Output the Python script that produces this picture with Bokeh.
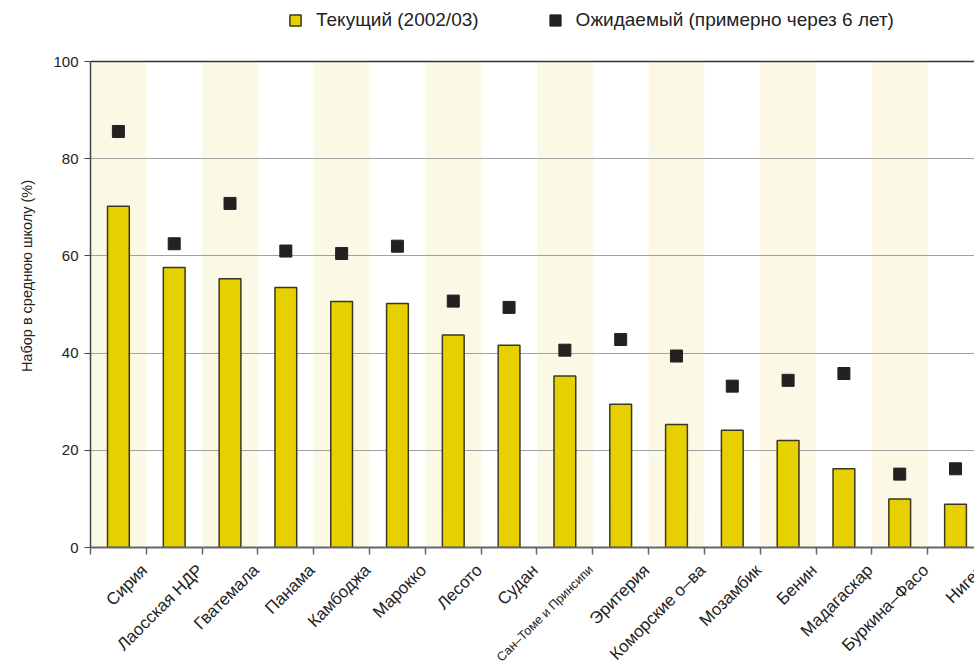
import math
from bokeh.plotting import figure
from bokeh.layouts import column
from bokeh.core.properties import value
from bokeh.models import (ColumnDataSource, FixedTicker, Legend, LegendItem, Span, Range1d, Title)
from bokeh.embed import file_html
from bokeh.resources import INLINE

countries = ["Сирия", "Лаосская НДР", "Гватемала", "Панама", "Камбоджа", "Марокко",
             "Лесото", "Судан", "Сан–Томе и Принсипи", "Эритерия", "Коморские о–ва",
             "Мозамбик", "Бенин", "Мадагаскар", "Буркина–Фасо", "Нигер"]
current = [70.2, 57.6, 55.3, 53.5, 50.6, 50.2, 43.7, 41.6, 35.3, 29.5, 25.3, 24.1, 22.0, 16.2, 10.0, 8.9]
expected = [85.6, 62.5, 70.8, 61.0, 60.5, 62.0, 50.7, 49.4, 40.6, 42.8, 39.4, 33.2, 34.4, 35.8, 15.1, 16.2]
y_ticks = [0, 20, 40, 60, 80, 100]
legend_labels = ["Текущий (2002/03)", "Ожидаемый (примерно через 6 лет)"]
y_title = "Набор в среднюю школу  (%)"

n = len(countries)
centers = [i + 0.5 for i in range(n)]
bounds = list(range(n + 1))
label_sizes = ["12.5px" if len(nm) > 16 else "17px" for nm in countries]

src = ColumnDataSource(dict(x=centers, cur=current, exp=expected, name=countries,
                            size=label_sizes, base=[0] * n))
band_src = ColumnDataSource(dict(x=[c for i, c in enumerate(centers) if i % 2 == 0],
                                 top=[100] * len(range(0, n, 2))))

FONT = "Liberation Sans"
TXT = "#222222"
B = 10
FH = 547  # frame height: legend strip on top + plot area
X_END = 15.84  # last category is partly cut off at the right, as in the source
PX_PER_UNIT = 884 / X_END
EXTRA_LEFT = 20  # label strip reaches a little left of the plot frame

xr = Range1d(0, X_END)

p = figure(frame_width=884, frame_height=FH, output_backend="svg", toolbar_location=None,
           x_range=xr, y_range=Range1d(0, 100 * FH / 486),
           min_border_left=90, min_border_right=0, min_border_top=0, min_border_bottom=B)
p.outline_line_color = None

p.vbar(x="x", top="top", bottom=0, width=1.0, source=band_src,
       fill_color="#FCF8E6", line_color=None, level="underlay")

bars = p.vbar(x="x", top="cur", bottom=0, width=0.39, source=src,
              fill_color="#E6D000", line_color="#3A3820", line_width=1.5)
pts = p.rect(x="x", y="exp", width=12, height=12, width_units="screen", height_units="screen",
             source=src, fill_color="#222222", line_color="#222222")

p.add_layout(Span(location=100, dimension="width", line_color="#333333", line_width=1.5))

p.xgrid.visible = False
p.ygrid.ticker = FixedTicker(ticks=[20, 40, 60, 80])
p.ygrid.grid_line_color = "#A0A0A0"
p.ygrid.grid_line_width = 1

p.yaxis.ticker = FixedTicker(ticks=y_ticks)
p.yaxis.bounds = (0, 100)
p.yaxis.minor_tick_line_color = None
p.yaxis.major_tick_out = 6
p.yaxis.major_tick_in = 0
p.yaxis.axis_line_color = "#444444"
p.yaxis.axis_line_width = 1.5
p.yaxis.major_tick_line_color = "#444444"
p.yaxis.major_label_text_font = FONT
p.yaxis.major_label_text_font_size = "15px"
p.yaxis.major_label_text_color = TXT
p.yaxis.major_label_standoff = 6

p.add_layout(Title(text=y_title, align="center", standoff=32,
                   text_font=FONT, text_font_size="14.5px", text_font_style="normal",
                   text_color=TXT), "left")

p.xaxis.ticker = FixedTicker(ticks=[], minor_ticks=bounds)
p.xaxis.major_label_text_font_size = "0px"
p.xaxis.major_label_standoff = 0
p.xaxis.major_tick_out = 0
p.xaxis.major_tick_line_color = None
p.xaxis.minor_tick_out = 7
p.xaxis.minor_tick_in = 0
p.xaxis.minor_tick_line_color = "#666666"
p.xaxis.minor_tick_line_width = 1.5
p.xaxis.axis_line_color = "#666666"
p.xaxis.axis_line_width = 2

legend = Legend(items=[LegendItem(label=legend_labels[0], renderers=[bars]),
                       LegendItem(label=legend_labels[1], renderers=[pts])],
                orientation="horizontal", location=(198, 516),
                glyph_width=14, glyph_height=14, label_height=20,
                label_standoff=14, spacing=69, padding=0, margin=0,
                background_fill_alpha=0, border_line_color=None,
                label_text_font=FONT, label_text_font_size="19px",
                label_text_color=TXT)
p.add_layout(legend)

# category labels, in a strip directly under the chart with the same x scale
H2 = 663 - FH - B
xr2 = Range1d(-EXTRA_LEFT / PX_PER_UNIT, X_END)
p2 = figure(frame_width=884 + EXTRA_LEFT, frame_height=H2, output_backend="svg",
            toolbar_location=None,
            x_range=xr2, y_range=Range1d(-H2, 0), x_axis_location=None, y_axis_location=None,
            min_border_left=90 - EXTRA_LEFT, min_border_right=0, min_border_top=0,
            min_border_bottom=0)
p2.outline_line_color = None
p2.grid.visible = False
p2.text(x="x", y="base", text="name", source=src, angle=math.pi / 4,
        x_offset=6, y_offset=10, text_align="right", text_baseline="middle",
        text_font=value(FONT), text_font_size="size", text_color=TXT)

open("out.html", "w").write(file_html(column(p, p2, spacing=0), INLINE))
